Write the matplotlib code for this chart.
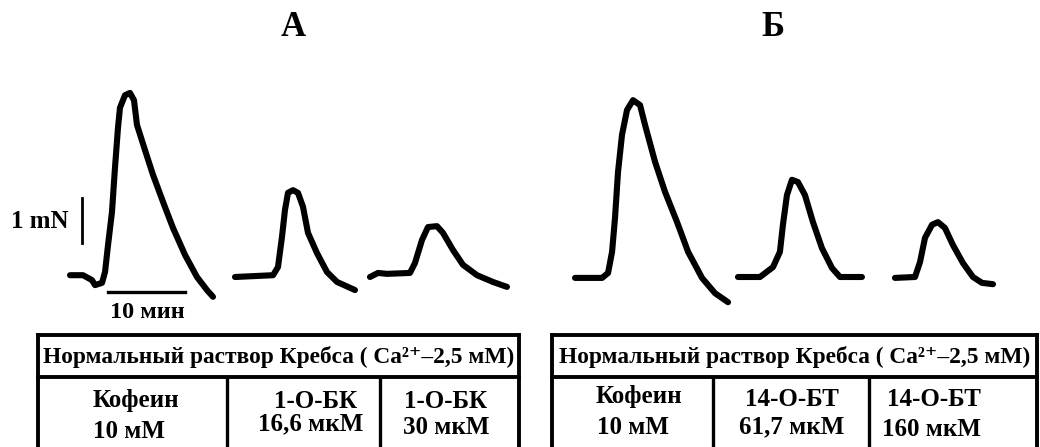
import matplotlib.pyplot as plt

# traces: time (min, from start of each record) and force (mN, from baseline)
a1_t = [0, 1.69, 2.86, 3.25, 4.16, 4.55, 4.94, 5.45, 5.84, 6.23, 6.49, 7.14, 7.79, 8.31, 8.70,
        9.74, 10.78, 12.08, 13.38, 14.94, 16.49, 17.79, 18.57]
a1_f = [0.04, 0.04, -0.07, -0.18, -0.13, 0.11, 0.71, 1.44, 2.42, 3.31, 3.76, 4.04, 4.09, 3.93, 3.38,
        2.82, 2.27, 1.67, 1.09, 0.49, 0, -0.29, -0.44]
a2_t = [0, 4.94, 5.58, 6.10, 6.49, 6.88, 7.53, 8.18, 8.83, 9.48, 10.65, 11.95, 13.25, 15.58]
a2_f = [0, 0.04, 0.22, 0.89, 1.49, 1.87, 1.93, 1.87, 1.56, 0.98, 0.53, 0.11, -0.11, -0.29]
a3_t = [0, 1.04, 2.21, 5.19, 5.84, 6.75, 7.53, 8.70, 9.48, 10.78, 12.08, 13.90, 15.97, 17.79]
a3_f = [0, 0.09, 0.07, 0.09, 0.31, 0.82, 1.11, 1.13, 0.98, 0.6, 0.27, 0.04, -0.11, -0.22]
b1_t = [0, 3.51, 4.29, 4.81, 5.19, 5.58, 6.10, 6.75, 7.53, 8.44, 9.09, 10.39, 11.69, 13.25,
        14.68, 16.49, 18.18, 19.87]
b1_f = [-0.02, -0.02, 0.09, 0.56, 1.31, 2.33, 3.16, 3.71, 3.93, 3.82, 3.38, 2.56, 1.89, 1.22,
        0.56, -0.02, -0.36, -0.56]
b2_t = [0, 2.86, 4.55, 5.45, 5.84, 6.36, 7.01, 7.79, 8.70, 9.74, 10.91, 12.21, 13.25, 16.10]
b2_f = [0, 0, 0.22, 0.56, 1.16, 1.82, 2.16, 2.11, 1.82, 1.22, 0.64, 0.2, 0, 0]
b3_t = [0, 2.60, 3.25, 3.90, 4.81, 5.58, 6.49, 7.53, 8.83, 10.13, 11.30, 12.73]
b3_f = [-0.02, 0, 0.33, 0.87, 1.16, 1.22, 1.09, 0.71, 0.31, 0, -0.13, -0.16]

traces = [(a1_t, a1_f), (a2_t, a2_f), (a3_t, a3_f), (b1_t, b1_f), (b2_t, b2_f), (b3_t, b3_f)]
starts = [9.09, 30.52, 48.05, 74.68, 95.84, 116.23]  # where each record sits on the sheet, min

panel_titles = ['А', 'Б']
header = 'Нормальный раствор Кребса ( Ca²⁺–2,5 мМ)'
cells_a = [('Кофеин', '10 мМ'), ('1-О-БК', '16,6 мкМ'), ('1-О-БК', '30 мкМ')]
cells_b = [('Кофеин', '10 мМ'), ('14-О-БТ', '61,7 мкМ'), ('14-О-БТ', '160 мкМ')]

px_min = 7.7   # pixels per minute
px_mN = 45.0   # pixels per mN
base_y = 277   # baseline, pixels from top
W, H = 1040, 447

serif = ['Liberation Serif', 'DejaVu Serif']

fig = plt.figure(figsize=(W / 100, H / 100), dpi=100)

# trace axes in min / mN
ax = fig.add_axes([0, 0, 1, 1])
ax.set_xlim(0, W / px_min)
ax.set_ylim((base_y - H) / px_mN, base_y / px_mN)
ax.axis('off')

for (t, f), t0 in zip(traces, starts):
    ax.plot([t0 + v for v in t], f, color='black', lw=4.4,
            solid_joinstyle='round', solid_capstyle='round')

# scale bars
ax.plot([10.65, 10.65], [0.76, 1.76], color='black', lw=2.0)
ax.plot([14.03, 24.03], [-0.33, -0.33], color='black', lw=2.4)

# overlay in pixels for texts and tables
ov = fig.add_axes([0, 0, 1, 1], facecolor='none')
ov.set_xlim(0, W)
ov.set_ylim(H, 0)
ov.axis('off')

ov.text(293, 28, panel_titles[0], ha='center', va='center', fontsize=25, fontweight='bold', family=serif)
ov.text(773, 28, panel_titles[1], ha='center', va='center', fontsize=25, fontweight='bold', family=serif)
ov.text(40, 221, '1 mN', ha='center', va='center', fontsize=18, fontweight='bold', family=serif)
ov.text(147, 312, '10 мин', ha='center', va='center', fontsize=17.5, fontweight='bold', family=serif)


def draw_table(x0, x1, xa, xb, cells, pos):
    lw = 2.8
    ov.plot([x0, x1], [335, 335], color='black', lw=lw)
    ov.plot([x0, x1], [377, 377], color='black', lw=lw)
    ov.plot([x0, x0], [335, H + 5], color='black', lw=lw)
    ov.plot([x1, x1], [335, H + 5], color='black', lw=lw)
    ov.plot([xa, xa], [377, H + 5], color='black', lw=2.4)
    ov.plot([xb, xb], [377, H + 5], color='black', lw=2.4)
    ov.text((x0 + x1) / 2, 357, header, ha='center', va='center', fontsize=16.8,
            fontweight='bold', family=serif)
    for (top, bot), (xt, yt, xbb, yb) in zip(cells, pos):
        ov.text(xt, yt, top, ha='center', va='center', fontsize=18, fontweight='bold', family=serif)
        ov.text(xbb, yb, bot, ha='center', va='center', fontsize=18, fontweight='bold', family=serif)


draw_table(38, 519, 227, 380, cells_a,
           [(136, 400, 129, 432), (315, 401, 311, 424), (446, 401, 446, 428)])
draw_table(552, 1037, 713, 869, cells_b,
           [(639, 397, 633, 427), (792, 399, 792, 427), (934, 400, 932, 430)])

fig.savefig('out.png', dpi=100)
